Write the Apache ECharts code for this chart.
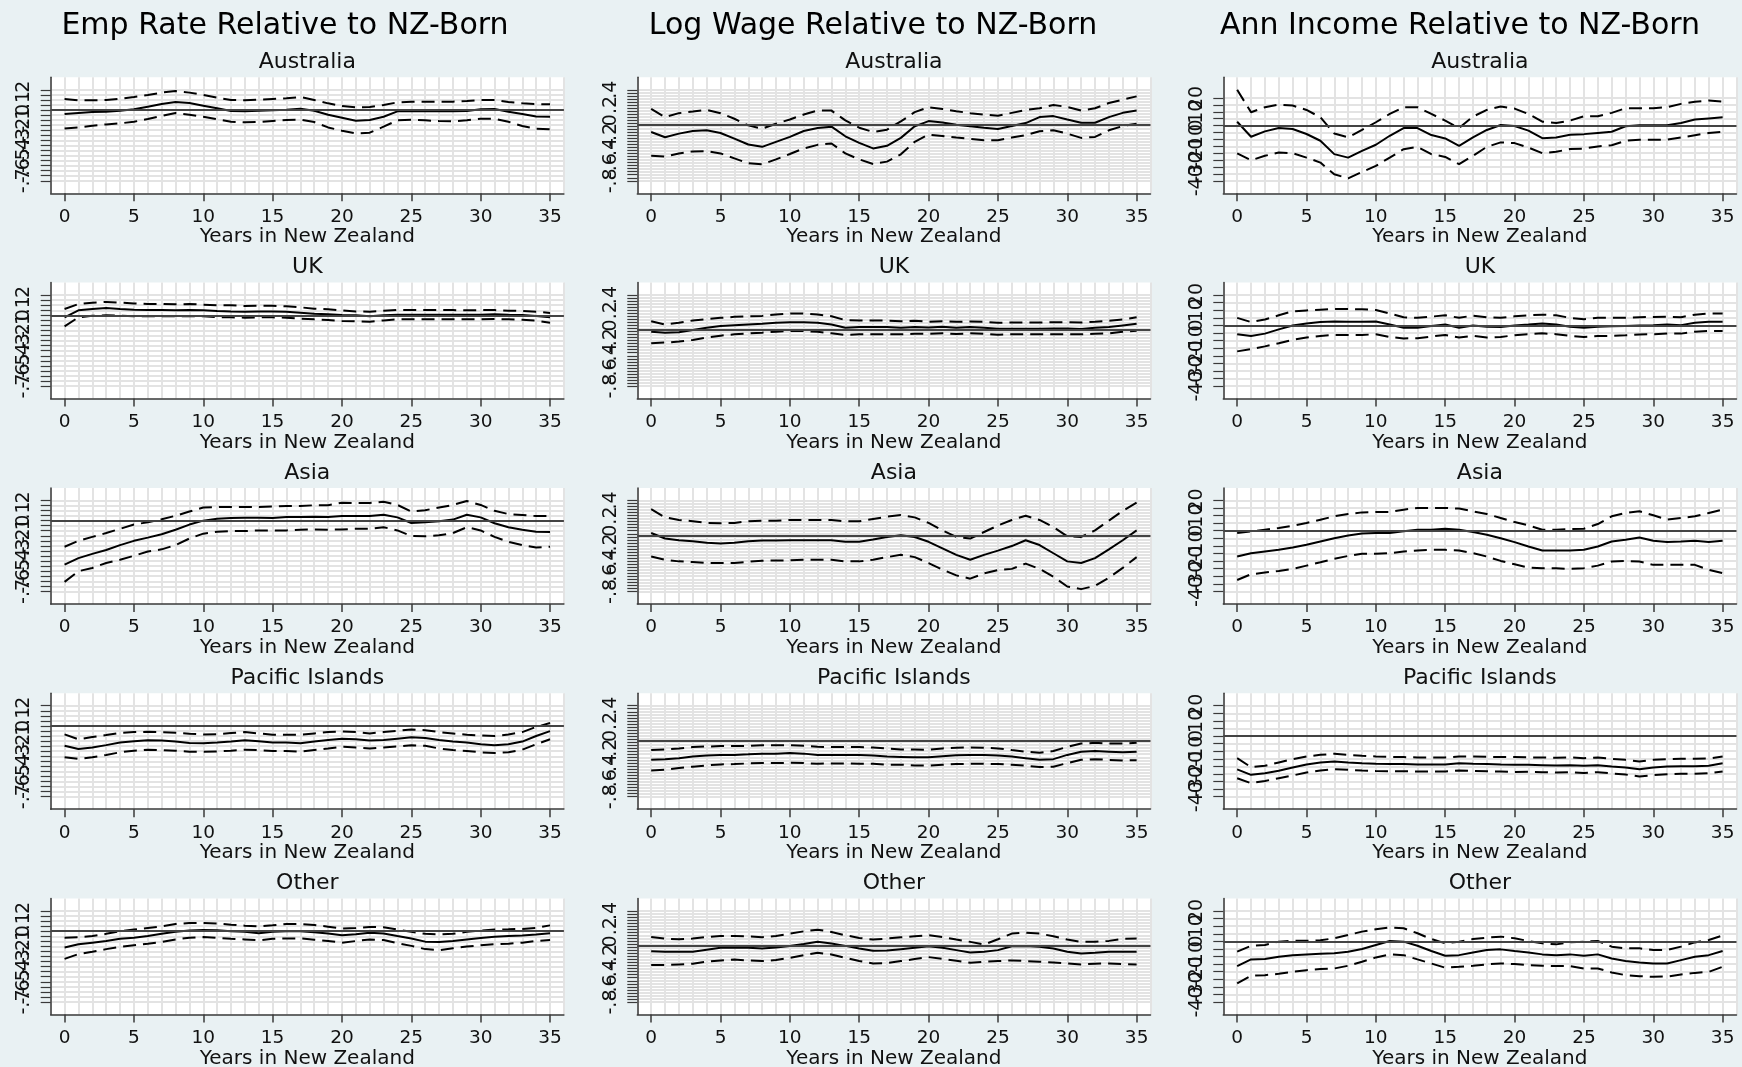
<!DOCTYPE html>
<html>
<head>
<meta charset="utf-8">
<script src="https://cdn.jsdelivr.net/npm/echarts@6/dist/echarts.min.js"></script>
<style>
html,body{margin:0;padding:0;background:#e9f1f3;}
#chart{width:1742px;height:1067px;}
</style>
</head>
<body>
<div id="chart"></div>
<script>
// ---------- categories / labels ----------
const years = [0,1,2,3,4,5,6,7,8,9,10,11,12,13,14,15,16,17,18,19,20,21,22,23,24,25,26,27,28,29,30,31,32,33,34,35];
const xTickValues = [0,5,10,15,20,25,30,35];
const colTitles = ["Emp Rate Relative to NZ-Born", "Log Wage Relative to NZ-Born", "Ann Income Relative to NZ-Born"];
const rowNames = ["Australia", "UK", "Asia", "Pacific Islands", "Other"];
const xAxisTitle = "Years in New Zealand";

const empTicks = [-0.7,-0.65,-0.6,-0.55,-0.5,-0.45,-0.4,-0.35,-0.3,-0.25,-0.2,-0.15,-0.1,-0.05,0,0.05,0.1,0.15,0.2];
const empLabels = [-0.7,-0.6,-0.5,-0.4,-0.3,-0.2,-0.1,0,0.1,0.2];
const wageTicks = [-0.8,-0.76,-0.72,-0.68,-0.64,-0.6,-0.56,-0.52,-0.48,-0.44,-0.4,-0.36,-0.32,-0.28,-0.24,-0.2,-0.16,-0.12,-0.08,-0.04,0,0.04,0.08,0.12,0.16,0.2,0.24,0.28,0.32,0.36,0.4];
const wageLabels = [-0.8,-0.6,-0.4,-0.2,0,0.2,0.4];
const incTicks = [-40,-35,-30,-25,-20,-15,-10,-5,0,5,10,15,20];
const incLabels = [-40,-30,-20,-10,0,10,20];
const refLines = [0, -0.06, 0];

// ---------- Employment rate ----------
const aus_emp_est = [-0.040,-0.030,-0.020,-0.017,-0.007,0.007,0.033,0.059,0.079,0.069,0.043,0.017,-0.010,-0.013,-0.007,-0.003,0.003,0.013,-0.007,-0.046,-0.076,-0.106,-0.099,-0.066,-0.013,-0.013,-0.013,-0.013,-0.013,-0.010,0.007,0.010,-0.017,-0.040,-0.063,-0.066];
const aus_emp_hi = [0.109,0.096,0.096,0.099,0.112,0.129,0.149,0.172,0.188,0.172,0.149,0.122,0.099,0.096,0.102,0.109,0.116,0.129,0.099,0.066,0.040,0.026,0.030,0.050,0.076,0.083,0.083,0.083,0.083,0.089,0.099,0.099,0.079,0.066,0.059,0.056];
const aus_emp_lo = [-0.182,-0.172,-0.155,-0.142,-0.132,-0.116,-0.089,-0.059,-0.030,-0.046,-0.066,-0.092,-0.116,-0.122,-0.119,-0.109,-0.099,-0.096,-0.119,-0.172,-0.205,-0.231,-0.224,-0.165,-0.102,-0.096,-0.102,-0.109,-0.112,-0.102,-0.086,-0.086,-0.116,-0.158,-0.185,-0.191];

const uk_emp_est = [-0.020,0.049,0.063,0.072,0.063,0.056,0.053,0.053,0.049,0.053,0.049,0.043,0.039,0.036,0.039,0.039,0.036,0.026,0.016,0.010,0.003,0.000,-0.010,0.000,0.006,0.006,0.006,0.006,0.006,0.006,0.006,0.010,0.006,0.003,-0.007,-0.020];
const uk_emp_hi = [0.062,0.112,0.125,0.132,0.125,0.118,0.112,0.112,0.109,0.112,0.105,0.099,0.099,0.092,0.095,0.095,0.089,0.079,0.066,0.059,0.049,0.039,0.036,0.046,0.052,0.052,0.052,0.052,0.052,0.049,0.052,0.052,0.046,0.043,0.036,0.023];
const uk_emp_lo = [-0.109,-0.020,-0.004,0.000,-0.004,-0.010,-0.010,-0.010,-0.010,-0.010,-0.010,-0.017,-0.020,-0.023,-0.020,-0.020,-0.023,-0.033,-0.040,-0.046,-0.056,-0.060,-0.063,-0.050,-0.040,-0.040,-0.040,-0.040,-0.040,-0.040,-0.040,-0.037,-0.040,-0.043,-0.053,-0.073];

const asia_emp_est = [-0.435,-0.371,-0.329,-0.290,-0.242,-0.200,-0.168,-0.135,-0.090,-0.039,0.000,0.019,0.026,0.029,0.029,0.026,0.035,0.035,0.039,0.035,0.045,0.045,0.045,0.058,0.032,-0.023,-0.016,-0.006,0.010,0.058,0.032,-0.026,-0.065,-0.090,-0.110,-0.113];
const asia_emp_hi = [-0.258,-0.200,-0.161,-0.123,-0.081,-0.039,-0.016,0.013,0.048,0.090,0.129,0.135,0.135,0.135,0.135,0.139,0.145,0.145,0.152,0.152,0.177,0.174,0.174,0.187,0.155,0.090,0.103,0.129,0.155,0.194,0.155,0.097,0.065,0.055,0.045,0.045];
const asia_emp_lo = [-0.606,-0.500,-0.468,-0.419,-0.387,-0.348,-0.306,-0.284,-0.242,-0.177,-0.129,-0.110,-0.103,-0.103,-0.097,-0.097,-0.097,-0.090,-0.087,-0.090,-0.087,-0.081,-0.081,-0.065,-0.097,-0.152,-0.155,-0.145,-0.123,-0.065,-0.097,-0.161,-0.210,-0.242,-0.265,-0.258];

const pac_emp_est = [-0.197,-0.229,-0.213,-0.190,-0.165,-0.152,-0.142,-0.145,-0.155,-0.168,-0.171,-0.165,-0.155,-0.142,-0.152,-0.165,-0.165,-0.171,-0.155,-0.139,-0.126,-0.132,-0.145,-0.139,-0.126,-0.113,-0.119,-0.139,-0.155,-0.165,-0.181,-0.190,-0.181,-0.155,-0.100,-0.052];
const pac_emp_hi = [-0.084,-0.132,-0.110,-0.090,-0.068,-0.061,-0.058,-0.061,-0.068,-0.077,-0.084,-0.081,-0.071,-0.061,-0.074,-0.087,-0.087,-0.087,-0.074,-0.061,-0.055,-0.061,-0.074,-0.061,-0.048,-0.035,-0.042,-0.061,-0.074,-0.087,-0.094,-0.100,-0.084,-0.061,-0.010,0.029];
const pac_emp_lo = [-0.310,-0.326,-0.310,-0.287,-0.261,-0.245,-0.235,-0.239,-0.245,-0.255,-0.255,-0.252,-0.245,-0.235,-0.239,-0.248,-0.248,-0.255,-0.239,-0.223,-0.206,-0.213,-0.223,-0.213,-0.203,-0.190,-0.197,-0.223,-0.239,-0.248,-0.261,-0.268,-0.261,-0.235,-0.181,-0.132];

const oth_emp_est = [-0.161,-0.129,-0.113,-0.097,-0.074,-0.065,-0.048,-0.026,-0.006,0.006,0.013,0.010,0.000,-0.006,-0.019,-0.006,0.000,0.000,-0.010,-0.023,-0.039,-0.029,-0.016,-0.023,-0.048,-0.071,-0.103,-0.106,-0.097,-0.081,-0.068,-0.055,-0.048,-0.042,-0.032,-0.019];
const oth_emp_hi = [-0.065,-0.058,-0.048,-0.026,0.000,0.016,0.032,0.048,0.071,0.081,0.081,0.077,0.065,0.055,0.048,0.058,0.071,0.071,0.061,0.045,0.026,0.032,0.042,0.039,0.016,-0.006,-0.026,-0.032,-0.026,-0.006,0.006,0.016,0.019,0.023,0.032,0.058];
const oth_emp_lo = [-0.274,-0.226,-0.203,-0.177,-0.155,-0.139,-0.123,-0.106,-0.081,-0.065,-0.058,-0.065,-0.074,-0.081,-0.090,-0.074,-0.071,-0.071,-0.084,-0.097,-0.113,-0.097,-0.081,-0.087,-0.119,-0.145,-0.177,-0.187,-0.168,-0.152,-0.139,-0.129,-0.123,-0.113,-0.097,-0.087];

// ---------- Log wage ----------
const aus_wage_est = [-0.156,-0.226,-0.178,-0.143,-0.134,-0.169,-0.243,-0.321,-0.352,-0.286,-0.221,-0.143,-0.104,-0.086,-0.213,-0.300,-0.373,-0.338,-0.234,-0.082,-0.013,-0.030,-0.060,-0.082,-0.100,-0.117,-0.078,-0.039,0.040,0.053,0.009,-0.034,-0.034,0.040,0.096,0.126];
const aus_wage_hi = [0.148,0.040,0.092,0.113,0.135,0.092,0.018,-0.069,-0.113,-0.047,0.009,0.074,0.126,0.126,-0.004,-0.100,-0.156,-0.126,-0.017,0.105,0.170,0.148,0.118,0.092,0.074,0.057,0.096,0.135,0.157,0.200,0.174,0.126,0.157,0.226,0.270,0.313];
const aus_wage_lo = [-0.469,-0.482,-0.439,-0.412,-0.408,-0.439,-0.504,-0.569,-0.582,-0.517,-0.447,-0.373,-0.326,-0.308,-0.439,-0.517,-0.578,-0.547,-0.451,-0.286,-0.191,-0.208,-0.230,-0.247,-0.265,-0.265,-0.230,-0.199,-0.147,-0.134,-0.178,-0.234,-0.221,-0.134,-0.078,-0.047];

const uk_wage_est = [-0.083,-0.096,-0.091,-0.061,-0.030,-0.009,0.004,0.013,0.022,0.035,0.043,0.043,0.035,0.013,-0.030,-0.022,-0.022,-0.022,-0.030,-0.022,-0.026,-0.017,-0.030,-0.022,-0.030,-0.043,-0.043,-0.043,-0.043,-0.039,-0.039,-0.048,-0.030,-0.022,0.000,0.022];
const uk_wage_hi = [0.056,0.013,0.035,0.065,0.083,0.100,0.113,0.122,0.126,0.143,0.156,0.156,0.143,0.122,0.070,0.065,0.065,0.065,0.056,0.061,0.048,0.056,0.048,0.052,0.048,0.035,0.039,0.039,0.039,0.043,0.043,0.039,0.048,0.061,0.078,0.109];
const uk_wage_lo = [-0.235,-0.226,-0.213,-0.191,-0.161,-0.135,-0.117,-0.104,-0.096,-0.083,-0.074,-0.074,-0.083,-0.104,-0.126,-0.117,-0.117,-0.117,-0.117,-0.109,-0.109,-0.104,-0.113,-0.104,-0.109,-0.122,-0.117,-0.117,-0.117,-0.117,-0.117,-0.117,-0.109,-0.104,-0.083,-0.070];

const asia_wage_est = [-0.030,-0.103,-0.125,-0.138,-0.159,-0.168,-0.159,-0.138,-0.129,-0.129,-0.125,-0.125,-0.125,-0.125,-0.146,-0.146,-0.116,-0.082,-0.060,-0.082,-0.146,-0.232,-0.318,-0.383,-0.318,-0.262,-0.202,-0.125,-0.189,-0.297,-0.404,-0.426,-0.361,-0.245,-0.125,0.004];
const asia_wage_hi = [0.284,0.176,0.142,0.125,0.103,0.099,0.103,0.125,0.133,0.133,0.142,0.142,0.142,0.142,0.125,0.125,0.155,0.185,0.206,0.176,0.103,0.004,-0.082,-0.103,-0.017,0.069,0.142,0.198,0.142,0.047,-0.073,-0.082,0.004,0.133,0.262,0.370];
const asia_wage_lo = [-0.340,-0.383,-0.404,-0.413,-0.426,-0.426,-0.426,-0.409,-0.396,-0.391,-0.391,-0.383,-0.383,-0.383,-0.404,-0.404,-0.383,-0.348,-0.318,-0.348,-0.426,-0.512,-0.589,-0.632,-0.563,-0.520,-0.503,-0.434,-0.503,-0.606,-0.735,-0.770,-0.727,-0.619,-0.490,-0.348];

const pac_wage_est = [-0.314,-0.305,-0.292,-0.271,-0.258,-0.249,-0.249,-0.241,-0.232,-0.232,-0.224,-0.232,-0.249,-0.249,-0.249,-0.249,-0.258,-0.271,-0.275,-0.280,-0.280,-0.267,-0.254,-0.249,-0.249,-0.258,-0.271,-0.292,-0.314,-0.305,-0.249,-0.206,-0.198,-0.206,-0.215,-0.206];
const pac_wage_hi = [-0.185,-0.176,-0.163,-0.146,-0.138,-0.133,-0.133,-0.129,-0.120,-0.120,-0.120,-0.129,-0.142,-0.146,-0.146,-0.146,-0.151,-0.163,-0.176,-0.176,-0.181,-0.163,-0.155,-0.151,-0.155,-0.163,-0.185,-0.206,-0.219,-0.198,-0.142,-0.099,-0.090,-0.099,-0.099,-0.090];
const pac_wage_lo = [-0.456,-0.443,-0.422,-0.404,-0.387,-0.374,-0.370,-0.361,-0.357,-0.357,-0.353,-0.357,-0.366,-0.361,-0.361,-0.366,-0.366,-0.378,-0.378,-0.387,-0.391,-0.378,-0.370,-0.366,-0.366,-0.370,-0.378,-0.391,-0.409,-0.404,-0.357,-0.314,-0.305,-0.314,-0.323,-0.318];

const oth_wage_est = [-0.130,-0.138,-0.138,-0.138,-0.112,-0.086,-0.086,-0.086,-0.095,-0.082,-0.060,-0.034,-0.007,-0.029,-0.060,-0.095,-0.125,-0.121,-0.103,-0.086,-0.064,-0.086,-0.116,-0.147,-0.138,-0.116,-0.064,-0.060,-0.073,-0.095,-0.138,-0.160,-0.151,-0.138,-0.138,-0.138];
const oth_wage_hi = [0.058,0.036,0.027,0.036,0.058,0.071,0.071,0.067,0.054,0.071,0.102,0.132,0.154,0.123,0.080,0.045,0.023,0.036,0.054,0.067,0.080,0.058,0.023,-0.007,-0.042,0.027,0.102,0.115,0.102,0.067,0.023,-0.007,-0.007,0.006,0.032,0.036];
const oth_wage_lo = [-0.313,-0.313,-0.304,-0.295,-0.269,-0.252,-0.239,-0.252,-0.260,-0.247,-0.217,-0.182,-0.151,-0.173,-0.217,-0.260,-0.291,-0.287,-0.260,-0.234,-0.208,-0.230,-0.256,-0.282,-0.269,-0.260,-0.252,-0.260,-0.269,-0.278,-0.291,-0.304,-0.295,-0.291,-0.300,-0.304];

// ---------- Annual income ----------
const aus_inc_est = [2.8,-8.1,-4.2,-1.8,-2.5,-6.1,-11.0,-20.7,-23.2,-18.3,-13.9,-7.4,-1.8,-1.8,-6.9,-9.3,-14.7,-8.6,-3.2,0.4,-0.3,-3.7,-9.1,-8.6,-6.6,-6.2,-5.3,-4.5,-0.5,0.3,0.3,0.3,1.9,4.4,5.2,6.0];
const aus_inc_hi = [25.9,9.6,13.3,15.2,14.5,11.3,6.0,-5.7,-8.6,-3.2,2.4,8.4,13.3,13.3,8.4,3.6,-1.8,6.5,11.3,13.8,12.3,8.4,2.8,1.9,3.6,6.8,6.8,9.2,12.5,12.5,12.5,13.3,15.7,17.3,18.1,17.3];
const aus_inc_lo = [-20.2,-25.1,-21.9,-19.5,-20.0,-23.2,-26.8,-35.3,-38.2,-33.6,-29.2,-23.2,-17.1,-15.4,-20.7,-22.7,-28.0,-21.9,-15.4,-12.2,-12.7,-15.9,-20.0,-19.0,-17.0,-16.7,-15.1,-14.3,-11.0,-10.2,-10.2,-10.2,-8.6,-7.0,-5.4,-4.5];

const uk_inc_est = [-5.8,-6.9,-5.4,-2.6,0.0,1.3,2.2,2.6,2.4,2.4,2.6,0.6,-1.5,-1.5,-0.4,0.6,-1.5,0.0,-0.9,-1.1,0.0,0.6,1.3,0.6,-0.9,-1.5,-0.9,-0.6,-0.4,0.0,0.2,0.6,0.2,1.7,2.4,2.4];
const uk_inc_hi = [5.0,2.2,3.9,6.7,9.3,9.9,10.4,10.8,10.8,10.6,10.2,7.8,5.4,5.0,5.8,6.7,5.0,6.5,5.4,5.0,6.0,6.7,7.1,6.7,5.0,4.1,5.0,5.0,5.0,5.4,5.6,5.8,5.4,7.1,7.8,7.8];
const uk_inc_lo = [-17.1,-15.6,-13.8,-11.7,-9.5,-8.0,-6.9,-6.3,-6.3,-6.3,-5.8,-7.6,-8.6,-8.4,-7.3,-6.3,-8.0,-6.9,-8.0,-7.6,-6.5,-5.8,-5.2,-5.8,-6.9,-7.6,-6.9,-6.9,-6.5,-6.0,-5.8,-5.4,-5.4,-4.1,-3.7,-3.7];

const asia_inc_est = [-17.0,-14.8,-13.7,-12.6,-11.0,-9.3,-7.1,-4.9,-3.1,-1.8,-1.5,-1.5,-0.4,0.7,0.7,1.3,0.7,-0.9,-2.6,-4.9,-7.5,-10.4,-13.0,-13.0,-13.0,-12.6,-10.4,-7.1,-6.0,-4.4,-6.6,-7.5,-7.1,-6.6,-7.5,-6.6];
const asia_inc_hi = [-1.5,-0.4,0.7,1.8,3.3,5.1,7.3,9.5,11.0,12.1,12.4,12.4,13.9,15.0,15.0,15.0,14.6,12.8,11.0,8.4,5.7,3.5,0.7,0.7,1.1,1.3,4.4,9.5,11.7,12.8,10.2,7.3,8.4,9.5,11.7,13.9];
const asia_inc_lo = [-32.5,-28.7,-27.6,-26.5,-25.2,-23.0,-20.8,-18.5,-16.6,-15.2,-15.2,-14.8,-13.7,-13.0,-12.6,-12.6,-13.0,-14.8,-17.0,-19.9,-22.1,-24.3,-24.7,-24.7,-25.2,-24.7,-23.0,-20.3,-19.9,-20.3,-22.5,-22.5,-22.5,-22.5,-25.8,-28.0];

const pac_inc_est = [-22.0,-25.6,-24.5,-22.9,-20.8,-18.8,-17.4,-16.8,-17.4,-17.9,-18.3,-18.5,-18.5,-18.8,-18.8,-18.8,-17.9,-18.3,-18.5,-18.8,-19.0,-19.0,-19.2,-19.4,-19.2,-19.6,-19.2,-20.1,-20.8,-21.9,-20.8,-20.1,-19.9,-19.9,-19.6,-18.0];
const pac_inc_hi = [-14.6,-20.5,-19.6,-17.4,-15.2,-13.5,-12.4,-11.7,-12.4,-13.0,-13.5,-13.7,-13.9,-14.1,-14.1,-14.1,-13.5,-13.5,-13.7,-13.9,-13.9,-14.1,-14.1,-14.3,-14.1,-14.6,-14.1,-15.0,-15.7,-16.8,-15.7,-15.2,-15.0,-15.0,-14.8,-13.5];
const pac_inc_lo = [-27.8,-31.1,-29.6,-27.8,-26.0,-24.1,-22.7,-21.9,-22.3,-22.7,-23.0,-23.2,-23.2,-23.4,-23.4,-23.4,-22.7,-23.0,-23.2,-23.4,-23.8,-23.6,-23.8,-24.1,-23.8,-24.3,-23.8,-24.7,-25.4,-26.7,-25.8,-25.2,-24.9,-24.9,-24.5,-23.4];

const oth_inc_est = [-16.3,-11.9,-11.7,-10.2,-9.1,-8.6,-8.2,-7.9,-6.8,-5.1,-2.4,0.2,-0.2,-2.9,-6.4,-9.5,-9.1,-7.3,-5.7,-5.3,-6.4,-7.3,-8.6,-9.1,-8.6,-9.5,-8.6,-11.3,-13.0,-13.9,-14.6,-14.6,-12.4,-10.2,-9.1,-6.4];
const oth_inc_hi = [-6.8,-2.9,-2.4,-0.2,0.4,0.4,0.7,2.0,4.2,6.4,7.9,9.1,8.6,5.3,1.5,-1.3,-0.2,1.5,2.4,3.1,2.0,0.2,-1.3,-2.0,-0.7,-0.2,0.2,-3.5,-4.6,-4.6,-5.7,-5.7,-3.5,-0.7,0.9,3.8];
const oth_inc_lo = [-27.8,-22.7,-22.3,-21.4,-20.1,-19.0,-18.3,-17.9,-16.1,-13.5,-10.6,-8.6,-9.1,-11.9,-14.6,-17.4,-16.8,-16.1,-15.2,-14.6,-15.0,-15.7,-16.1,-16.3,-16.3,-17.9,-17.9,-20.5,-22.3,-23.0,-23.4,-23.2,-21.9,-20.8,-20.1,-16.8];

// ---------- assemble ----------
const panelData = [
  [[aus_emp_est,aus_emp_hi,aus_emp_lo],[aus_wage_est,aus_wage_hi,aus_wage_lo],[aus_inc_est,aus_inc_hi,aus_inc_lo]],
  [[uk_emp_est,uk_emp_hi,uk_emp_lo],[uk_wage_est,uk_wage_hi,uk_wage_lo],[uk_inc_est,uk_inc_hi,uk_inc_lo]],
  [[asia_emp_est,asia_emp_hi,asia_emp_lo],[asia_wage_est,asia_wage_hi,asia_wage_lo],[asia_inc_est,asia_inc_hi,asia_inc_lo]],
  [[pac_emp_est,pac_emp_hi,pac_emp_lo],[pac_wage_est,pac_wage_hi,pac_wage_lo],[pac_inc_est,pac_inc_hi,pac_inc_lo]],
  [[oth_emp_est,oth_emp_hi,oth_emp_lo],[oth_wage_est,oth_wage_hi,oth_wage_lo],[oth_inc_est,oth_inc_hi,oth_inc_lo]]
];
const colTicks = [empTicks, wageTicks, incTicks];
const colLabels = [empLabels, wageLabels, incLabels];

const FONT = 'DejaVu Sans';
const INK = '#111';
const AXIS = '#3a3a3a';
const GRIDC = '#e3e3e3';
const LABEL_LAYERS = 3; // labels spread across stacked axes so that overlapping labels are all kept

const colLeft = [50.7, 637.3, 1223.3];
const plotW = 513.2;
const rowTop0 = 77.3, rowStep = 205.3, plotH = 116;
const titleX = [285, 873, 1460];

function fmtStata(v) {
  let s = String(+(+v).toFixed(3));
  if (s.indexOf('0.') === 0) s = s.slice(1);
  else if (s.indexOf('-0.') === 0) s = '-' + s.slice(2);
  return s;
}
function yExtent(arrs, ticks) {
  let lo = Math.min.apply(null, ticks), hi = Math.max.apply(null, ticks);
  arrs.forEach(a => a.forEach(v => { if (v < lo) lo = v; if (v > hi) hi = v; }));
  const pad = (hi - lo) * 12.5 / 91;
  return [lo - pad, hi + pad];
}

const grids = [], xAxes = [], yAxes = [], series = [], graphics = [];

for (let r = 0; r < rowNames.length; r++) {
  for (let c = 0; c < 3; c++) {
    const idx = r * 3 + c;
    const top = rowTop0 + r * rowStep;
    const left = colLeft[c];
    const d = panelData[r][c];
    const ext = yExtent(d, colTicks[c]);
    grids.push({
      left: left, top: top, width: plotW, height: plotH,
      show: true, backgroundColor: '#ffffff', borderWidth: 0,
      containLabel: false, outerBoundsMode: 'none'
    });
    // visible x axis
    xAxes.push({
      gridIndex: idx, type: 'value', min: -1, max: 36, position: 'bottom',
      axisLine: { show: true, onZero: false, lineStyle: { color: AXIS, width: 1.5 } },
      axisTick: { show: true, customValues: xTickValues, length: 8, lineStyle: { color: AXIS, width: 1.5 } },
      axisLabel: { show: true, customValues: xTickValues, fontSize: 18.5, fontFamily: FONT, color: INK, margin: 14,
                   showMinLabel: true, showMaxLabel: true },
      splitLine: { show: false },
      name: xAxisTitle, nameLocation: 'middle', nameGap: 33,
      nameTextStyle: { fontSize: 20, fontFamily: FONT, color: INK }
    });
    // hidden x axis for vertical grid lines (every year)
    xAxes.push({
      gridIndex: idx, type: 'value', min: -1, max: 36, interval: 1, position: 'top',
      axisLine: { show: false, onZero: false }, axisTick: { show: false }, axisLabel: { show: false },
      splitLine: { show: true, lineStyle: { color: GRIDC, width: 2 } }
    });
    const yBase = yAxes.length;
    for (let k = 0; k < LABEL_LAYERS; k++) {
      const labs = colLabels[c].filter((v, i) => i % LABEL_LAYERS === k);
      const primary = (k === 0);
      yAxes.push({
        gridIndex: idx, type: 'value', min: ext[0], max: ext[1], position: 'left', offset: 0,
        axisLine: { show: primary, onZero: false, lineStyle: { color: AXIS, width: 1.5 } },
        axisTick: { show: primary, customValues: colTicks[c], length: 10, lineStyle: { color: AXIS, width: 1.2 } },
        axisLabel: { show: true, customValues: labs, rotate: 90, fontSize: 19, fontFamily: FONT, color: INK, margin: 17,
                     showMinLabel: true, showMaxLabel: true, hideOverlap: false,
                     formatter: v => fmtStata(v) },
        splitLine: { show: primary, lineStyle: { color: GRIDC, width: 2 } }
      });
    }
    const mk = (arr) => years.map((x, i) => [x, arr[i]]);
    series.push({
      type: 'line', xAxisIndex: idx * 2, yAxisIndex: yBase, data: mk(d[0]),
      symbol: 'none', silent: true, z: 4,
      lineStyle: { color: '#000', width: 2, type: 'solid' },
      markLine: {
        silent: true, symbol: 'none', label: { show: false }, animation: false,
        lineStyle: { color: '#444', width: 2, type: 'solid' },
        data: [{ yAxis: refLines[c] }]
      }
    });
    series.push({
      type: 'line', xAxisIndex: idx * 2, yAxisIndex: yBase, data: mk(d[1]),
      symbol: 'none', silent: true, z: 3,
      lineStyle: { color: '#000', width: 2, type: [13, 7] }
    });
    series.push({
      type: 'line', xAxisIndex: idx * 2, yAxisIndex: yBase, data: mk(d[2]),
      symbol: 'none', silent: true, z: 3,
      lineStyle: { color: '#000', width: 2, type: [13, 7] }
    });
    graphics.push({
      type: 'text', x: left + plotW / 2, y: top - 15,
      style: { text: rowNames[r], font: '22px "' + FONT + '"', fill: INK, textAlign: 'center', textVerticalAlign: 'middle' }
    });
  }
}
for (let c = 0; c < 3; c++) {
  graphics.push({
    type: 'text', x: titleX[c], y: 26,
    style: { text: colTitles[c], font: '30px "' + FONT + '"', fill: '#000', textAlign: 'center', textVerticalAlign: 'middle' }
  });
}

const chart = echarts.init(document.getElementById('chart'), null, { renderer: 'canvas' });
chart.setOption({
  backgroundColor: '#e9f1f3',
  animation: false,
  grid: grids,
  xAxis: xAxes,
  yAxis: yAxes,
  series: series,
  graphic: { elements: graphics }
});
</script>
</body>
</html>
